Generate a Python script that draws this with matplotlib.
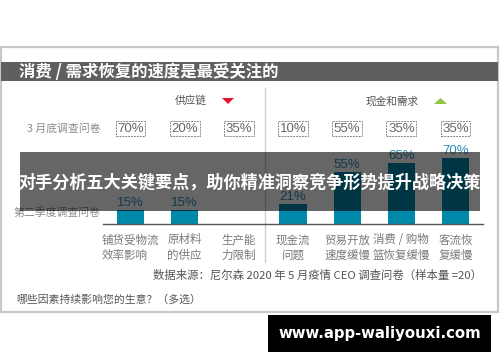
import matplotlib
matplotlib.use("Agg")
import matplotlib.pyplot as plt
from matplotlib.patches import Rectangle, Polygon

plt.rcParams['font.family'] = ['Noto Sans CJK SC', 'DejaVu Sans']

categories = ["铺货受物流\n效率影响", "原材料\n的供应", "生产能\n力限制", "现金流\n问题",
              "贸易开放\n速度缓慢", "消费 / 购物\n篮恢复缓慢", "客流恢\n复缓慢"]
q2_values = [15, 15, 0, 21, 55, 65, 70]
march_values = [70, 20, 35, 10, 55, 35, 35]
group_labels = ["供应链", "现金和需求"]
title = "消费 / 需求恢复的速度是最受关注的"
row1_label = "3 月底调查问卷"
row2_label = "第二季度调查问卷"
source = "数据来源：尼尔森 2020 年 5 月疫情 CEO 调查问卷（样本量 =20）"
question = "哪些因素持续影响您的生意？（多选）"
overlay_text = "对手分析五大关键要点，助你精准洞察竞争形势提升战略决策"
watermark = "www.app-waliyouxi.com"

W, H = 500, 362
fig = plt.figure(figsize=(W / 100, H / 100), dpi=100)
fig.patch.set_facecolor("white")

# background layer in pixel coordinates
bg = fig.add_axes([0, 0, 1, 1], zorder=0)
bg.set_xlim(0, W)
bg.set_ylim(H, 0)
bg.axis("off")

bg.add_patch(Rectangle((1, 47), 497, 265, fill=False, edgecolor="#c8c8c8", lw=1.6))
bg.add_patch(Rectangle((1, 62), 497, 19, facecolor="#5f5f5f", edgecolor="none"))
bg.text(19, 72, title, color="white", fontsize=11.8, fontweight="bold", va="center", ha="left")

# group headers
bg.text(191, 101, group_labels[0], color="#555555", fontsize=7.7, ha="center", va="center")
bg.add_patch(Polygon([(222, 98), (234, 98), (228, 104)], closed=True, facecolor="#e5122b", edgecolor="none"))
bg.text(392, 101, group_labels[1], color="#555555", fontsize=7.7, ha="center", va="center")
bg.add_patch(Polygon([(434, 104), (447, 104), (440.5, 98)], closed=True, facecolor="#8dc63f", edgecolor="none"))

# divider
bg.plot([265, 265], [88, 262], color="#d0d0d0", lw=1)

bg.text(101, 129, row1_label, color="#8a8a8a", fontsize=7.8, ha="right", va="center")
bg.text(101, 213, row2_label, color="#8a8a8a", fontsize=7.8, ha="right", va="center")

bg.text(153, 275, source, color="#555555", fontsize=8.2, ha="left", va="center")
bg.text(16, 299, question, color="#555555", fontsize=7.8, ha="left", va="center")

# bar axes
x0, x1 = 103.4, 482.6
base, ppp = 224, 0.94
ax = fig.add_axes([x0 / W, (H - base) / H, (x1 - x0) / W, 100 * ppp / H], zorder=1)
ax.set_facecolor("none")
ax.set_xlim(-0.5, len(categories) - 0.5)
ax.set_ylim(0, 100)
for s in ["top", "right", "left"]:
    ax.spines[s].set_visible(False)
ax.spines["bottom"].set_color("#555555")
ax.spines["bottom"].set_linewidth(1)
ax.set_yticks([])
ax.set_xticks([])
pos = list(range(len(categories)))
ax.bar(pos, q2_values, width=0.5, color="#0089a8", zorder=2)
for i, v in enumerate(q2_values):
    if v > 0:
        ax.text(i, v + 1, f"{v}%", color="#2f8db3", fontsize=9.5, family="Liberation Sans",
                ha="center", va="bottom")
    ax.text(i, -10, categories[i], color="#7a7a7a", fontsize=8.3, ha="center", va="top",
            multialignment="left" if i == 0 else "center", linespacing=1.25, clip_on=False)
    ax.text(i, 101.5, f"{march_values[i]}%", color="#666666", fontsize=9.5, family="Liberation Sans",
            ha="center", va="center", clip_on=False,
            bbox=dict(boxstyle="square,pad=0.12", facecolor="none", edgecolor="#888888",
                      linestyle=(0, (2, 1)), lw=0.7))

# overlay layer
top = fig.add_axes([0, 0, 1, 1], zorder=3)
top.set_facecolor("none")
top.set_xlim(0, W)
top.set_ylim(H, 0)
top.axis("off")
top.add_patch(Rectangle((20, 152), 460, 59, facecolor="black", alpha=0.6, edgecolor="none"))
top.text(250, 183, overlay_text, color="white", fontsize=12.3, fontweight="bold", ha="center", va="center")
top.add_patch(Rectangle((268, 315), 223, 37, facecolor="black", edgecolor="none"))
top.text(379.5, 333.5, watermark, color="white", fontsize=10.7, fontweight="bold",
         family="DejaVu Sans", ha="center", va="center")

fig.savefig("out.png", dpi=100)
